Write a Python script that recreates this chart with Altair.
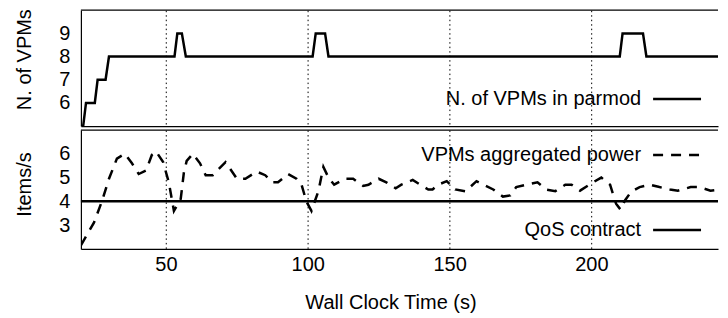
import altair as alt
import pandas as pd

# ---- data ----
vpm_time = [20, 20.8, 21.8, 24.9, 25.9, 28.7, 29.9, 53, 54, 55.6, 57,
            101.7, 102.8, 106.1, 107.3, 210, 211, 218.2, 219.4, 247]
vpm_count = [5, 5, 6, 6, 7, 7, 8, 8, 9, 9, 8,
             8, 9, 9, 8, 8, 9, 9, 8, 8]

power_time = [20, 24.6, 27.4, 29.9, 32.7, 35.5, 38, 40.4, 43, 45, 46.5, 49, 51, 52.8,
              55.2, 56.3, 57.3, 59.5, 62, 64, 66.5, 71, 75, 78, 82, 85, 87.5, 89.5,
              93, 96, 97.8, 99.5, 101.3, 103.8, 105.5, 107.3, 109.3, 113, 116, 119.5,
              121.4, 125, 127.7, 131, 133, 137, 139.7, 142.5, 144, 146, 149, 152,
              155.6, 159.5, 162, 165.4, 168.8, 171.4, 173.5, 177, 181, 184, 187.3,
              190.8, 193, 196, 200.6, 203.5, 206.6, 208.7, 210.3, 211.9, 214, 217,
              220.7, 224, 227.7, 230.5, 235, 238, 242, 245.7]
power_value = [2.15, 3.1, 4.0, 4.95, 5.8, 6.0, 5.6, 5.15, 5.3, 5.95, 6.1, 5.65, 4.8, 3.6,
               4.1, 5.2, 5.7, 6.0, 5.6, 5.1, 5.1, 5.65, 4.95, 4.95, 5.25, 5.1, 4.8, 4.8,
               5.15, 4.95, 4.7, 4.0, 3.6, 4.45, 5.45, 5.0, 4.7, 4.95, 4.95, 4.65,
               4.7, 4.95, 4.8, 4.55, 4.7, 4.9, 4.7, 4.5, 4.5, 4.7, 4.85, 4.5,
               4.42, 4.85, 4.7, 4.5, 4.2, 4.25, 4.6, 4.7, 4.8, 4.5, 4.43,
               4.7, 4.7, 4.45, 4.8, 5.0, 4.7, 3.9, 3.65, 4.05, 4.4, 4.6,
               4.7, 4.6, 4.5, 4.45, 4.6, 4.6, 4.45, 4.5]
qos_contract = [4]

x_ticks = [50, 100, 150, 200]
top_ticks = [6, 7, 8, 9]
bottom_ticks = [3, 4, 5, 6]
series_names = ["N. of VPMs in parmod", "VPMs aggregated power", "QoS contract"]

# ---- layout / style ----
FONT = "Liberation Sans"
FS = 20
W = 638
H1 = 116
H2 = 119
LW = 2.5
FRAME = 1.2

df_vpm = pd.DataFrame({"t": vpm_time, "n": vpm_count})
df_pow = pd.DataFrame({"t": power_time, "p": power_value})
df_qos = pd.DataFrame({"p": qos_contract})
dummy = pd.DataFrame({"k": [0]})

xscale = alt.Scale(domain=[20, 244.65], nice=False, zero=False)
grid_kw = dict(grid=True, gridColor="black", gridDash=[1.5, 3], gridWidth=1,
               domain=True, domainColor="black", domainWidth=FRAME, ticks=False,
               labelOverlap=False)
y_kw = dict(ticks=False, grid=False, labelPadding=11, labelOverlap=False,
            domainColor="black", domainWidth=FRAME, titleX=-50,
            titleBaseline="alphabetic")


def top_frame():
    return alt.Chart(dummy).mark_rule(color="black", strokeWidth=FRAME).encode(
        x=alt.value(0), x2=alt.value(W), y=alt.value(0))


def legend(text, ypix, dash=None):
    t = alt.Chart(dummy).mark_text(align="right", baseline="middle", font=FONT,
                                   fontSize=FS, color="black").encode(
        x=alt.value(561), y=alt.value(ypix), text=alt.value(text))
    kw = dict(color="black", strokeWidth=LW)
    if dash:
        kw["strokeDash"] = dash
    r = alt.Chart(dummy).mark_rule(**kw).encode(
        x=alt.value(573), x2=alt.value(621), y=alt.value(ypix))
    return [t, r]


top_line = alt.Chart(df_vpm).mark_line(color="black", strokeWidth=LW, clip=True).encode(
    x=alt.X("t:Q", scale=xscale,
            axis=alt.Axis(values=x_ticks, labels=False, title=None, **grid_kw)),
    y=alt.Y("n:Q", scale=alt.Scale(domain=[5, 10], nice=False, zero=False),
            axis=alt.Axis(values=top_ticks, title="N. of VPMs", titleY=49, **y_kw)),
)
top = alt.layer(top_line, top_frame(), *legend(series_names[0], 89)).properties(
    width=W, height=H1)

yscale_bottom = alt.Scale(domain=[2, 7], nice=False, zero=False)
yaxis_bottom = alt.Axis(values=bottom_ticks, title="Items/s", titleY=54, **y_kw)

pow_line = alt.Chart(df_pow).mark_line(color="black", strokeWidth=LW,
                                       strokeDash=[10, 8], clip=True).encode(
    x=alt.X("t:Q", scale=xscale,
            axis=alt.Axis(values=x_ticks, labelPadding=6, title="Wall Clock Time (s)",
                          titleX=310, titleY=60, titleBaseline="alphabetic",
                          **grid_kw)),
    y=alt.Y("p:Q", scale=yscale_bottom, axis=yaxis_bottom),
)
qos_line = alt.Chart(df_qos).mark_rule(color="black", strokeWidth=LW).encode(
    y=alt.Y("p:Q", scale=yscale_bottom, axis=yaxis_bottom))
bottom = alt.layer(pow_line, qos_line, top_frame(),
                   *legend(series_names[1], 25, dash=[10, 8]),
                   *legend(series_names[2], 100)).properties(width=W, height=H2)

chart = alt.vconcat(top, bottom, spacing=3).properties(
    padding={"left": 7, "top": 0, "right": 0, "bottom": 0}
).configure_view(stroke=None).configure_axis(
    labelFont=FONT, titleFont=FONT, labelFontSize=FS, titleFontSize=FS,
    labelColor="black", titleColor="black", titleFontWeight="normal"
)

chart.save("out.html", embed_options={"renderer": "svg", "actions": False})
